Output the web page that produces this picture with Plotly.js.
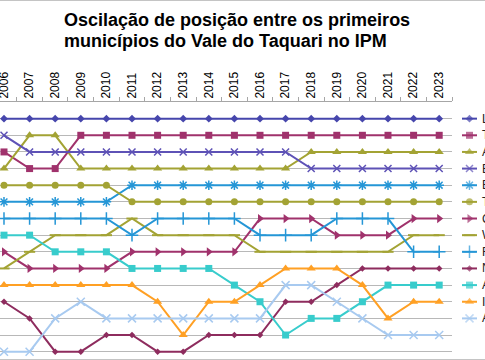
<!DOCTYPE html>
<html><head><meta charset="utf-8">
<script src="https://cdn.plot.ly/plotly-3.0.1.min.js"></script>
<style>
html,body{margin:0;padding:0;background:#fff;}
#chart{width:485px;height:360px;}
.edge{position:absolute;left:0;width:485px;height:1px;background:#c4c4c4;z-index:5;}
</style>
</head><body>
<div id="chart"></div>
<div class="edge" style="top:0"></div>
<div class="edge" style="top:359px"></div>
<script>
// ---- data ----
const years = ["2006","2007","2008","2009","2010","2011","2012","2013","2014","2015","2016","2017","2018","2019","2020","2021","2022","2023"];
const names = ["Lajeado","Teutônia","Arroio do Meio","Estrela","Encantado","Taquari","Colinas","Westfália","Roca Sales","Nova Bréscia","Anta Gorda","Imigrante","Arvorezinha"];
const rankLajeado     = [1,1,1,1,1,1,1,1,1,1,1,1,1,1,1,1,1,1];
const rankTeutonia    = [3,4,4,2,2,2,2,2,2,2,2,2,2,2,2,2,2,2];
const rankArroio      = [4,2,2,4,4,4,4,4,4,4,4,4,3,3,3,3,3,3];
const rankEstrela     = [2,3,3,3,3,3,3,3,3,3,3,3,4,4,4,4,4,4];
const rankEncantado   = [6,6,6,6,6,5,5,5,5,5,5,5,5,5,5,5,5,5];
const rankTaquari     = [5,5,5,5,5,6,6,6,6,6,6,6,6,6,6,6,6,6];
const rankColinas     = [9,10,10,10,10,9,9,9,9,9,7,7,7,8,8,8,7,7];
const rankWestfalia   = [10,9,8,8,8,7,8,8,8,8,9,9,9,9,9,9,8,8];
const rankRocaSales   = [7,7,7,7,7,8,7,7,7,7,8,8,8,7,7,7,9,9];
const rankNovaBrescia = [12,13,15,15,14,14,15,15,14,14,14,12,12,11,10,10,10,10];
const rankAntaGorda   = [8,8,9,9,9,10,10,10,10,11,12,14,13,13,12,11,11,11];
const rankImigrante   = [11,11,11,11,11,11,12,14,12,12,11,10,10,10,11,13,12,12];
const rankArvorezinha = [15,15,13,12,13,13,13,13,13,13,13,11,11,12,13,14,14,14];
const rankValues = [rankLajeado,rankTeutonia,rankArroio,rankEstrela,rankEncantado,rankTaquari,rankColinas,rankWestfalia,rankRocaSales,rankNovaBrescia,rankAntaGorda,rankImigrante,rankArvorezinha];
const rankTicks = [1,2,3,4,5,6,7,8,9,10,11,12,13,14,15];

// ---- styles ----
const styles = [
  {c:"#4646ac", s:"diamond", z:6},
  {c:"#a0326c", s:"square", z:7},
  {c:"#a3a334", s:"triangle-up", z:8},
  {c:"#5e52b6", s:"x-thin-open", z:7, lw:1.5},
  {c:"#2596d6", s:"asterisk-open", z:8, lw:1.5},
  {c:"#a3a334", s:"circle", z:7},
  {c:"#a0326c", s:"triangle-right", z:8},
  {c:"#a3a334", s:"line-ew-open", z:8, lw:2},
  {c:"#2596d6", s:"cross-thin-open", z:9, lw:1.5},
  {c:"#8e2c5e", s:"diamond", z:5},
  {c:"#38cccc", s:"square", z:7},
  {c:"#ffa024", s:"triangle-up", z:8},
  {c:"#a8caf0", s:"x-thin-open", z:8, lw:1.5}
];

const traces = [];
rankValues.forEach((vals,i)=>{
  const st = styles[i];
  traces.push({
    type:"scatter", mode:"lines+markers", x:years, y:vals, name:names[i],
    xaxis:"x", yaxis:"y", showlegend:false, hoverinfo:"skip",
    line:{color:st.c, width:2},
    marker:{symbol:st.s, size:st.z, color:st.c, line:{color:st.c, width:st.lw||0}}
  });
});
// custom legend (spacing matched to rows)
const annotations = [];
names.forEach((n,i)=>{
  const st = styles[i];
  const pos = i+1;
  traces.push({
    type:"scatter", mode:"lines+markers", x:[7,14.5,22], y:[pos,pos,pos],
    xaxis:"x2", yaxis:"y2", showlegend:false, hoverinfo:"skip",
    line:{color:st.c, width:2},
    marker:{symbol:st.s, size:[0,st.z,0], color:st.c, line:{color:st.c, width:st.lw||0}}
  });
  annotations.push({xref:"x2", yref:"y2", x:24.5, y:pos, text:n, showarrow:false,
    xanchor:"left", yanchor:"middle", font:{family:"Liberation Sans, Arial, sans-serif", size:12, color:"#222"}});
});
annotations.push({xref:"paper", yref:"paper", x:62/485, y:1.316, xanchor:"left", yanchor:"middle",
  showarrow:false, text:"<b>Oscilação de posição entre os primeiros</b>",
  font:{family:"Liberation Sans, Arial, sans-serif", size:18, color:"#000"}});
annotations.push({xref:"paper", yref:"paper", x:62/485, y:1.238, xanchor:"left", yanchor:"middle",
  showarrow:false, text:"<b>municípios do Vale do Taquari no IPM</b>",
  font:{family:"Liberation Sans, Arial, sans-serif", size:18, color:"#000"}});

const layout = {
  width:485, height:360,
  margin:{l:0, r:0, t:102, b:0, pad:0},
  paper_bgcolor:"#fff", plot_bgcolor:"#fff",
  showlegend:false,
  xaxis:{type:"category", side:"top", domain:[0, 452/485], range:[-0.156, 17.5],
    tickson:"boundaries", ticks:"outside", ticklen:4, tickcolor:"#a6a6a6", tickwidth:1,
    showline:true, linecolor:"#a6a6a6", linewidth:1, showgrid:false, zeroline:false,
    tickangle:-90, tickfont:{family:"Liberation Sans, Arial, sans-serif", size:12, color:"#000"},
    fixedrange:true},
  yaxis:{domain:[0,1], range:[15.5, 0], tickvals:rankTicks, showticklabels:false,
    showgrid:true, gridcolor:"#b8b8b8", gridwidth:1, zeroline:false, showline:false, ticks:"",
    fixedrange:true},
  xaxis2:{domain:[455/485, 1], range:[0,30], anchor:"y2", visible:false, fixedrange:true},
  yaxis2:{domain:[0,1], range:[15.5, 0], anchor:"x2", visible:false, fixedrange:true},
  annotations:annotations
};
Plotly.newPlot("chart", traces, layout, {displayModeBar:false, staticPlot:true});
</script>
</body></html>
